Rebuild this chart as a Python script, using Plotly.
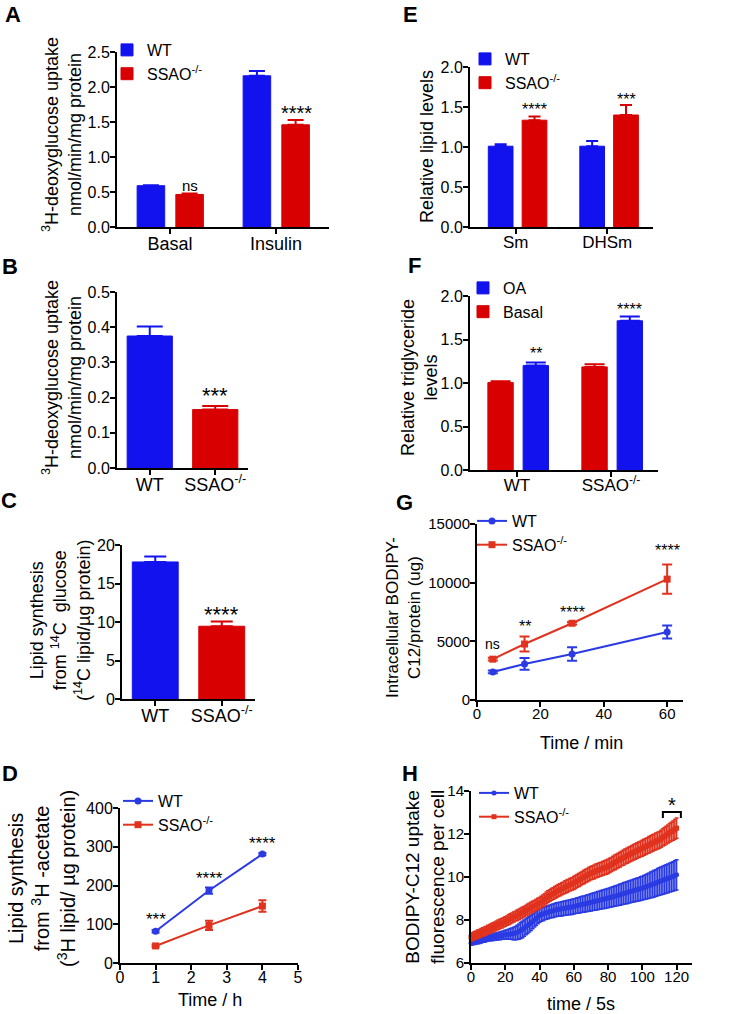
import plotly.graph_objects as go

W, H = 738, 1014
FONT = "Arial, 'Liberation Sans', Helvetica, sans-serif"
BLUE = "#1212EE"
RED = "#D80000"
LBLUE = "#2B3BE3"
LRED = "#E0321E"
KO = "SSAO<sup>-/-</sup>"

# ---------------- data ----------------
# A
a_groups = ["Basal", "Insulin"]
a_wt = [0.59, 2.16]
a_wt_err = [0.005, 0.07]
a_ko = [0.465, 1.46]
a_ko_err = [0.012, 0.07]
a_sig = ["ns", "****"]
a_sig_y = [0.60, 1.63]

# B
b_groups = ["WT", KO]
b_vals = [0.375, 0.166]
b_err = [0.027, 0.010]
b_sig = "***"
b_sig_y = 0.205

# C
c_groups = ["WT", KO]
c_vals = [17.8, 9.45]
c_err = [0.7, 0.6]
c_sig = "****"
c_sig_y = 11.0

# D
d_time = [1, 2.5, 4]
d_wt = [82, 187, 281]
d_wt_err = [3, 8, 3]
d_ko = [44, 97, 147]
d_ko_err = [3, 12, 15]
d_sig = ["***", "****", "****"]
d_sig_y = [112, 218, 308]

# E
e_groups = ["Sm", "DHSm"]
e_wt = [1.01, 1.01]
e_wt_err = [0.025, 0.065]
e_ko = [1.335, 1.40]
e_ko_err = [0.045, 0.125]
e_sig = ["****", "***"]
e_sig_y = [1.47, 1.60]

# F
f_groups = ["WT", KO]
f_basal = [1.005, 1.185]
f_basal_err = [0.015, 0.03]
f_oa = [1.20, 1.715]
f_oa_err = [0.035, 0.05]
f_sig = ["**", "****"]
f_sig_y = [1.34, 1.85]

# G
g_time = [5, 15, 30, 60]
g_wt = [2390, 3070, 3920, 5800]
g_wt_err = [120, 500, 580, 560]
g_ko = [3480, 4770, 6540, 10300]
g_ko_err = [120, 640, 100, 1240]
g_sig = ["ns", "**", "****", "****"]
g_sig_y = [4750, 6250, 7500, 12700]

# H
h_time = list(range(121))
h_wt = [6.93, 6.95, 6.97, 6.99, 7.01, 7.03, 7.05, 7.08, 7.10, 7.13, 7.16,
        7.17, 7.19, 7.20, 7.22, 7.23, 7.25, 7.26, 7.28, 7.30, 7.32,
        7.33, 7.34, 7.35, 7.36, 7.37, 7.39, 7.42, 7.46, 7.51, 7.56,
        7.62, 7.68, 7.74, 7.80, 7.86, 7.93, 8.00, 8.07, 8.14, 8.21,
        8.25, 8.28, 8.31, 8.34, 8.36, 8.39, 8.41, 8.43, 8.46, 8.48,
        8.49, 8.51, 8.52, 8.54, 8.55, 8.57, 8.58, 8.60, 8.61, 8.63,
        8.65, 8.67, 8.69, 8.71, 8.73, 8.74, 8.76, 8.78, 8.80, 8.82,
        8.84, 8.86, 8.88, 8.90, 8.92, 8.94, 8.96, 8.98, 9.00, 9.02,
        9.04, 9.06, 9.09, 9.11, 9.13, 9.15, 9.18, 9.20, 9.23, 9.25,
        9.27, 9.30, 9.32, 9.34, 9.37, 9.39, 9.41, 9.43, 9.46, 9.48,
        9.51, 9.54, 9.57, 9.60, 9.63, 9.66, 9.69, 9.72, 9.76, 9.79,
        9.82, 9.85, 9.88, 9.91, 9.94, 9.97, 10.00, 10.03, 10.06, 10.10]
h_wt_err = [0.10, 0.10, 0.11, 0.11, 0.11, 0.12, 0.12, 0.12, 0.13, 0.13, 0.14,
            0.14, 0.15, 0.15, 0.16, 0.16, 0.17, 0.18, 0.18, 0.19, 0.20,
            0.21, 0.23, 0.25, 0.27, 0.29, 0.31, 0.33, 0.35, 0.37, 0.38,
            0.38, 0.37, 0.37, 0.36, 0.35, 0.34, 0.33, 0.33, 0.32, 0.32,
            0.31, 0.31, 0.30, 0.30, 0.30, 0.30, 0.31, 0.31, 0.31, 0.32,
            0.32, 0.32, 0.33, 0.33, 0.33, 0.34, 0.34, 0.34, 0.35, 0.35,
            0.35, 0.36, 0.36, 0.37, 0.37, 0.38, 0.38, 0.39, 0.39, 0.40,
            0.40, 0.41, 0.41, 0.42, 0.42, 0.43, 0.43, 0.44, 0.44, 0.45,
            0.45, 0.46, 0.46, 0.47, 0.47, 0.48, 0.49, 0.49, 0.50, 0.50,
            0.51, 0.51, 0.52, 0.52, 0.53, 0.53, 0.54, 0.54, 0.55, 0.55,
            0.56, 0.57, 0.58, 0.59, 0.60, 0.61, 0.62, 0.62, 0.63, 0.64,
            0.65, 0.65, 0.66, 0.66, 0.67, 0.67, 0.68, 0.68, 0.69, 0.70]
h_ko = [7.20, 7.23, 7.27, 7.30, 7.34, 7.37, 7.41, 7.44, 7.48, 7.51, 7.55,
        7.59, 7.63, 7.66, 7.70, 7.74, 7.78, 7.82, 7.85, 7.89, 7.93,
        7.97, 8.01, 8.06, 8.10, 8.14, 8.18, 8.22, 8.26, 8.31, 8.35,
        8.39, 8.44, 8.48, 8.53, 8.57, 8.62, 8.66, 8.70, 8.75, 8.79,
        8.84, 8.90, 8.96, 9.03, 9.09, 9.14, 9.19, 9.23, 9.28, 9.33,
        9.37, 9.41, 9.45, 9.49, 9.53, 9.57, 9.61, 9.65, 9.68, 9.72,
        9.77, 9.82, 9.86, 9.91, 9.96, 10.00, 10.05, 10.09, 10.14, 10.18,
        10.21, 10.24, 10.28, 10.31, 10.34, 10.37, 10.40, 10.43, 10.46, 10.49,
        10.54, 10.58, 10.63, 10.68, 10.72, 10.77, 10.81, 10.86, 10.90, 10.95,
        10.99, 11.03, 11.07, 11.11, 11.15, 11.19, 11.23, 11.27, 11.30, 11.34,
        11.38, 11.42, 11.46, 11.50, 11.54, 11.58, 11.62, 11.66, 11.69, 11.73,
        11.78, 11.84, 11.89, 11.95, 12.00, 12.06, 12.11, 12.16, 12.22, 12.27]
h_ko_err = [0.18, 0.18, 0.18, 0.19, 0.19, 0.19, 0.19, 0.20, 0.20, 0.20, 0.20,
            0.20, 0.21, 0.21, 0.21, 0.21, 0.22, 0.22, 0.22, 0.22, 0.22,
            0.22, 0.23, 0.23, 0.23, 0.23, 0.23, 0.24, 0.24, 0.24, 0.24,
            0.24, 0.24, 0.25, 0.25, 0.25, 0.25, 0.25, 0.25, 0.26, 0.26,
            0.26, 0.26, 0.26, 0.27, 0.27, 0.27, 0.27, 0.27, 0.28, 0.28,
            0.28, 0.28, 0.28, 0.28, 0.29, 0.29, 0.29, 0.29, 0.29, 0.30,
            0.30, 0.30, 0.30, 0.30, 0.30, 0.31, 0.31, 0.31, 0.31, 0.31,
            0.31, 0.32, 0.32, 0.32, 0.32, 0.32, 0.32, 0.33, 0.33, 0.33,
            0.33, 0.33, 0.33, 0.34, 0.34, 0.34, 0.34, 0.34, 0.35, 0.35,
            0.35, 0.35, 0.35, 0.35, 0.36, 0.36, 0.36, 0.36, 0.36, 0.37,
            0.37, 0.37, 0.37, 0.38, 0.38, 0.38, 0.38, 0.39, 0.39, 0.39,
            0.40, 0.40, 0.41, 0.41, 0.42, 0.43, 0.44, 0.45, 0.46, 0.47]
h_bracket_x = [112, 122.5]
h_bracket_y = [12.75, 13.02]
h_sig = "*"
h_sig_y = 13.35

# axis titles
t_gluc = "<sup>3</sup>H-deoxyglucose uptake<br>nmol/min/mg protein"
t_c = "Lipid synthesis<br>from <sup>14</sup>C  glucose<br>(<sup>14</sup>C lipid/µg protein)"
t_d = "Lipid synthesis<br>from <sup>3</sup>H -acetate<br>(<sup>3</sup>H lipid/ µg protein)"
t_e = "Relative lipid levels"
t_f = "Relative triglyceride<br>levels"
t_g = "Intracellular BODIPY-<br>C12/protein (ug)"
t_h = "BODIPY-C12 uptake<br>fluorescence per cell"
t_dx = "Time / h"
t_gx = "Time / min"
t_hx = "time / 5s"

# ---------------- helpers ----------------
def xd(a, b):
    return [a / W, b / W]


def yd(top, bottom):
    return [1 - bottom / H, 1 - top / H]


fig = go.Figure()


def up_err(err, color, cap, thick=2):
    return dict(type="data", array=err, arrayminus=[0] * len(err), symmetric=False,
                color=color, thickness=thick, width=cap)


def bar(x, y, err, color, name, ax, width, offset, cap, legend=None, rank=None):
    kw = dict(x=x, y=y, width=width, offset=offset, name=name,
              marker=dict(color=color, line=dict(color=color, width=1)),
              error_y=up_err(err, color, cap), xaxis="x" + ax, yaxis="y" + ax,
              showlegend=legend is not None)
    if legend:
        kw["legend"] = legend
    if rank is not None:
        kw["legendrank"] = rank
    fig.add_trace(go.Bar(**kw))


def line(x, y, err, color, name, ax, symbol, size, cap, thick, legend, lw=2):
    fig.add_trace(go.Scatter(x=x, y=y, name=name, mode="lines+markers",
                             line=dict(color=color, width=lw),
                             marker=dict(color=color, symbol=symbol, size=size),
                             error_y=dict(type="data", array=err, color=color,
                                          thickness=thick, width=cap),
                             xaxis="x" + ax, yaxis="y" + ax, cliponaxis=False,
                             legend=legend))


# A
bar(a_groups, a_wt, a_wt_err, BLUE, "WT", "", 0.26, -0.31, 8, "legend")
bar(a_groups, a_ko, a_ko_err, RED, KO, "", 0.26, 0.055, 8, "legend")
# B
bar(b_groups[:1], b_vals[:1], b_err[:1], BLUE, "WT", "2", 0.69, -0.345, 13)
bar(b_groups[1:], b_vals[1:], b_err[1:], RED, KO, "2", 0.69, -0.345, 13)
# C
bar(c_groups[:1], c_vals[:1], c_err[:1], BLUE, "WT", "3", 0.69, -0.345, 11)
bar(c_groups[1:], c_vals[1:], c_err[1:], RED, KO, "3", 0.69, -0.345, 11)
# D
line(d_time, d_wt, d_wt_err, LBLUE, "WT", "4", "circle", 7, 4, 2, "legend4")
line(d_time, d_ko, d_ko_err, LRED, KO, "4", "square", 7, 4, 2, "legend4")
# E
bar(e_groups, e_wt, e_wt_err, BLUE, "WT", "5", 0.27, -0.30, 6, "legend2")
bar(e_groups, e_ko, e_ko_err, RED, KO, "5", 0.27, 0.07, 6, "legend2")
# F
bar(f_groups, f_basal, f_basal_err, RED, "Basal", "6", 0.27, -0.31, 10, "legend3", 2)
bar(f_groups, f_oa, f_oa_err, BLUE, "OA", "6", 0.27, 0.065, 10, "legend3", 1)
# G
line(g_time, g_wt, g_wt_err, LBLUE, "WT", "7", "circle", 7, 5, 2, "legend5")
line(g_time, g_ko, g_ko_err, LRED, KO, "7", "square", 7, 5, 2, "legend5")
# H
line(h_time, h_wt, h_wt_err, LBLUE, "WT", "8", "circle", 5, 2, 1.5, "legend6")
line(h_time, h_ko, h_ko_err, LRED, KO, "8", "square", 5, 2, 1.5, "legend6")

# ---------------- axes ----------------
def axis(domain, anchor, fs=16, xa=False, **kw):
    d = dict(domain=domain, anchor=anchor, showline=True, linecolor="black", linewidth=2,
             ticks="outside", ticklen=5, tickwidth=2, tickcolor="black",
             showgrid=False, zeroline=False, fixedrange=True,
             ticklabelstandoff=-6 if xa else -3,
             tickfont=dict(size=fs, color="black", family=FONT))
    d.update(kw)
    return d


layout_axes = dict(
    xaxis=axis(xd(117, 329), "y", 18, True, type="category", range=[-0.5, 1.5]),
    yaxis=axis(yd(52, 227), "x", range=[0, 2.5], dtick=0.5, tickformat=".1f"),
    xaxis2=axis(xd(117, 248), "y2", 18, True, type="category", range=[-0.5, 1.5]),
    yaxis2=axis(yd(292, 468), "x2", range=[0, 0.5], dtick=0.1, tickformat=".1f"),
    xaxis3=axis(xd(122, 255), "y3", 18, True, type="category", range=[-0.5, 1.5]),
    yaxis3=axis(yd(545, 699), "x3", range=[0, 20], dtick=5),
    xaxis4=axis(xd(120, 298), "y4", 16, True, range=[0, 5], dtick=1),
    yaxis4=axis(yd(808, 963), "x4", range=[0, 400], dtick=100),
    xaxis5=axis(xd(470, 653), "y5", 17, True, type="category", range=[-0.5, 1.5]),
    yaxis5=axis(yd(67, 227), "x5", range=[0, 2], dtick=0.5, tickformat=".1f"),
    xaxis6=axis(xd(470, 658), "y6", 17, True, type="category", range=[-0.5, 1.5]),
    yaxis6=axis(yd(296, 470), "x6", range=[0, 2], dtick=0.5, tickformat=".1f"),
    xaxis7=axis(xd(477, 683), "y7", 15, True, range=[0, 65], dtick=20),
    yaxis7=axis(yd(524, 700), "x7", 15, range=[0, 15000], dtick=5000, tickformat="d"),
    xaxis8=axis(xd(471, 692), "y8", 15, True, range=[0, 129], dtick=20),
    yaxis8=axis(yd(791, 963), "x8", 15, range=[6, 14], dtick=2),
)


def leg(xpx, ypx, fs=16):
    return dict(x=xpx / W, y=1 - ypx / H, xanchor="left", yanchor="top",
                bgcolor="rgba(0,0,0,0)", font=dict(size=fs, color="black", family=FONT),
                tracegroupgap=0, itemclick=False)


annotations = []


def note(text, x, y, ax, size):
    annotations.append(dict(text=text, x=x, y=y, xref="x" + ax, yref="y" + ax,
                            showarrow=False, yanchor="middle",
                            font=dict(size=size, color="black", family=FONT)))


def ptext(text, xp, yp, size, angle=0, bold=False):
    annotations.append(dict(text="<b>%s</b>" % text if bold else text,
                            x=xp / W, y=1 - yp / H, xref="paper", yref="paper",
                            xanchor="center", yanchor="middle", textangle=angle,
                            showarrow=False,
                            font=dict(size=size, color="black", family=FONT)))


note(a_sig[0], 0.19, a_sig_y[0], "", 15)
note(a_sig[1], 1.19, a_sig_y[1], "", 20)
note(b_sig, 1, b_sig_y, "2", 22)
note(c_sig, 1, c_sig_y, "3", 22)
for t, s, y in zip(d_time, d_sig, d_sig_y):
    note(s, t, y, "4", 17)
note(e_sig[0], 0.205, e_sig_y[0], "5", 16)
note(e_sig[1], 1.205, e_sig_y[1], "5", 16)
note(f_sig[0], 0.2, f_sig_y[0], "6", 16)
note(f_sig[1], 1.2, f_sig_y[1], "6", 16)
for t, s, y in zip(g_time, g_sig, g_sig_y):
    note(s, t, y, "7", 14 if s == "ns" else 16)
note(h_sig, sum(h_bracket_x) / 2, h_sig_y, "8", 20)

# axis titles (rotated y titles, x titles)
ptext(t_gluc, 62, 135, 18, -90)
ptext(t_gluc, 62, 378, 18, -90)
ptext(t_c, 60, 621, 18, -90)
ptext(t_d, 42, 879, 20, -90)
ptext(t_e, 427, 147, 18, -90)
ptext(t_f, 419, 378, 18, -90)
ptext(t_g, 403, 618, 17, -90)
ptext(t_h, 425, 877, 19, -90)
ptext(t_dx, 210, 1000, 18)
ptext(t_gx, 581, 743, 18)
ptext(t_hx, 581, 1004, 18)

# panel letters
for letter, xp, yp in [("A", 13, 15), ("B", 10, 266), ("C", 9, 500), ("D", 10, 773),
                       ("E", 410, 15), ("F", 414, 265), ("G", 404, 502), ("H", 410, 773)]:
    ptext(letter, xp, yp, 22, 0, True)

bx0, bx1 = h_bracket_x
by0, by1 = h_bracket_y
shapes = [dict(type="path", xref="x8", yref="y8",
               path="M %s,%s L %s,%s L %s,%s L %s,%s" % (bx0, by0, bx0, by1, bx1, by1, bx1, by0),
               line=dict(color="black", width=2))]

fig.update_layout(
    width=W, height=H, margin=dict(l=0, r=0, t=0, b=0, autoexpand=False),
    paper_bgcolor="white", plot_bgcolor="white", barmode="overlay",
    font=dict(family=FONT, color="black"),
    legend=leg(107, 33), legend2=leg(465, 42), legend3=leg(463, 271),
    legend4=leg(118, 784), legend5=leg(472, 504), legend6=leg(474, 776),
    annotations=annotations, shapes=shapes, **layout_axes)

fig.write_html("out.html", config={"displayModeBar": False},
               post_script="document.body.style.margin='0';")
